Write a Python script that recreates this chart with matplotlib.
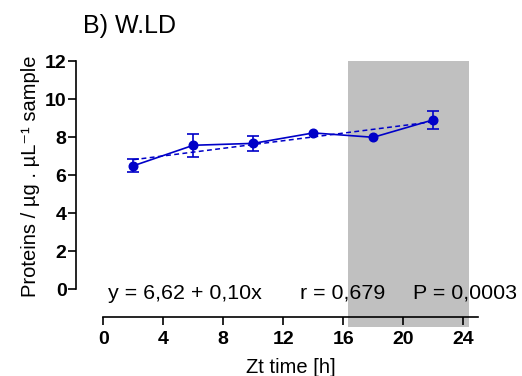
import numpy as np
import matplotlib
matplotlib.use("Agg")
import matplotlib.pyplot as plt

plt.rcParams['font.family'] = ['Liberation Sans', 'DejaVu Sans']

# Zeitgeber time points and protein content (mean ± SEM)
zt = np.array([2, 6, 10, 14, 18, 22])
protein = np.array([6.50, 7.58, 7.68, 8.23, 8.00, 8.92])
sem = np.array([0.35, 0.60, 0.38, 0.08, 0.06, 0.49])

# linear fit reported on the panel
intercept, slope = 6.62, 0.10
r_value, p_value = "0,679", "0,0003"

# dark phase shading
dark_start, dark_end = 16.33, 24.4

xticks = [0, 4, 8, 12, 16, 20, 24]
yticks = [0, 2, 4, 6, 8, 10, 12]

blue = '#0000C8'

fig = plt.figure(figsize=(5.22, 3.76), dpi=100)
ax = fig.add_axes([0.1462, 0.1295, 0.770, 0.7075])
ax.set_xlim(-1.8, 25.0)
ax.set_ylim(-2.0, 12.0)

ax.axvspan(dark_start, dark_end, color='#C0C0C0', lw=0, zorder=0)

# regression line
fx = np.array([zt[0], zt[-1]])
ax.plot(fx, intercept + slope * fx, color=blue, lw=1.1, ls=(0, (3.2, 2.2)), zorder=3)

# mean values
ax.plot(zt, protein, color=blue, lw=1.2, marker='o', ms=6.2, zorder=4)
show = sem > 0.2
ax.errorbar(zt[show], protein[show], yerr=sem[show], fmt='none', ecolor=blue,
            elinewidth=1.2, capsize=4.2, capthick=1.2, zorder=4)

# axes styled with detached spines
for s in ('top', 'right'):
    ax.spines[s].set_visible(False)
ax.spines['left'].set_bounds(0, 12)
ax.spines['bottom'].set_position(('data', -1.44))
ax.spines['bottom'].set_bounds(0, 25)
for s in ('left', 'bottom'):
    ax.spines[s].set_linewidth(1.2)

ax.set_xticks(xticks)
ax.set_yticks(yticks)
ax.tick_params(axis='both', direction='out', length=5.5, width=1.2, labelsize=14)
ax.tick_params(axis='x', pad=5)
ax.tick_params(axis='y', pad=1.5)
for lab in ax.get_xticklabels() + ax.get_yticklabels():
    lab.set_fontweight('bold')

ax.set_ylabel('Proteins / µg . µL⁻¹ sample', fontsize=14.5)
ax.yaxis.set_label_coords(-0.0903, 0.566)
ax.set_xlabel('Zt time [h]', fontsize=14.5)
ax.xaxis.set_label_coords((12.5 + 1.8) / 26.8, -0.115)

ax.text(0.33, -0.2, 'y = 6,62 + 0,10x', fontsize=15.4, va='center', ha='left')
ax.text(13.1, -0.2, f'r = {r_value}', fontsize=15.4, va='center', ha='left')
ax.text(20.65, -0.2, f'P = {p_value}', fontsize=15.4, va='center', ha='left')

fig.text(82.7 / 522, 1 - 25.5 / 376, 'B) W.LD', fontsize=18, va='center', ha='left')

fig.savefig('out.png', dpi=100)
